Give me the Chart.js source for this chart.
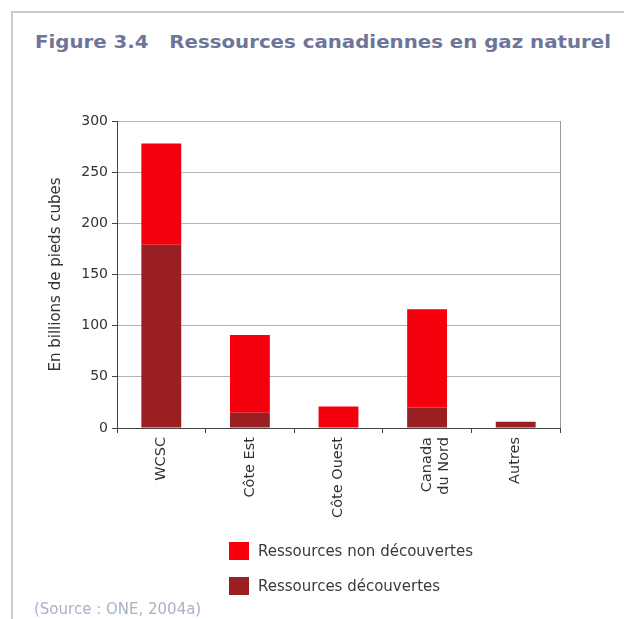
<!DOCTYPE html>
<html><head><meta charset="utf-8">
<script src="https://cdn.jsdelivr.net/npm/chart.js@4"></script>
<style>
html,body{margin:0;padding:0;background:#fff;}
#wrap{position:relative;width:624px;height:619px;overflow:hidden;font-family:"DejaVu Sans",sans-serif;background:#fff;}
#frame{position:absolute;left:11px;top:11px;width:640px;height:640px;border-left:2px solid #cbcbd3;border-top:2px solid #cbcbd3;}
#title{position:absolute;left:35px;top:34px;font-weight:bold;font-size:17px;line-height:17px;color:#6e7598;white-space:pre;transform-origin:0 0;}
#chartBox{position:absolute;left:0;top:0;width:624px;height:619px;}
#legend{position:absolute;left:229px;top:541px;}
.item{position:relative;height:35px;}
.sw{position:absolute;left:0;top:1px;width:20px;height:18px;}
.lt{position:absolute;left:29px;top:1px;font-size:15px;line-height:18px;color:#3a3a3a;white-space:nowrap;}
#source{position:absolute;left:34px;top:601px;font-size:15px;line-height:16px;color:#a9b1cb;white-space:nowrap;}
</style>
</head><body>
<div id="wrap">
  <div id="frame"></div>
  <div id="title">Figure 3.4   Ressources canadiennes en gaz naturel</div>
  <div id="chartBox"><canvas id="c" width="624" height="619"></canvas></div>
  <div id="legend"></div>
  <div id="source">(Source : ONE, 2004a)</div>
</div>
<script>
const categories = ['WCSC', 'Côte Est', 'Côte Ouest', ['Canada', 'du Nord'], 'Autres'];
const discovered = [179, 15, 0, 20, 6];
const undiscovered = [99, 76, 21, 96, 0];
const yTicksMin = 0, yTicksMax = 300, yTickStep = 50;
const seriesNames = ['Ressources découvertes', 'Ressources non découvertes'];
const seriesColors = ['#9a1f22', '#f4000c'];
const yTitle = 'En billions de pieds cubes';

const fam = '"DejaVu Sans", sans-serif';

const rightBorder = {
  id: 'rightBorder',
  afterDraw(chart) {
    const a = chart.chartArea, ctx = chart.ctx;
    ctx.save();
    ctx.strokeStyle = '#9a9a9a';
    ctx.lineWidth = 1;
    ctx.beginPath();
    ctx.moveTo(Math.round(a.right) + 0.5, a.top);
    ctx.lineTo(Math.round(a.right) + 0.5, a.bottom);
    ctx.stroke();
    ctx.restore();
  }
};

const chart = new Chart(document.getElementById('c'), {
  type: 'bar',
  data: {
    labels: categories,
    datasets: [
      {label: seriesNames[0], data: discovered, backgroundColor: seriesColors[0], borderWidth: 0},
      {label: seriesNames[1], data: undiscovered, backgroundColor: seriesColors[1], borderWidth: 0}
    ]
  },
  options: {
    responsive: false,
    animation: false,
    devicePixelRatio: 1,
    categoryPercentage: 1,
    barPercentage: 0.45,
    layout: {padding: {left: 42, top: 121, right: 64, bottom: 91}},
    plugins: {legend: {display: false}, title: {display: false}, tooltip: {enabled: false}},
    scales: {
      x: {
        stacked: true,
        grid: {display: true, drawOnChartArea: false, drawTicks: true, tickLength: 5, tickColor: '#444', offset: true},
        border: {display: true, color: '#444', width: 1},
        ticks: {font: {family: fam, size: 14.5}, color: '#333', minRotation: 90, maxRotation: 90, padding: 4, autoSkip: false},
        afterFit(scale) { scale.height = 100; }
      },
      y: {
        stacked: true,
        min: yTicksMin, max: yTicksMax,
        grid: {color: '#b3b3b3', tickColor: '#444', tickLength: 5, lineWidth: 1},
        border: {display: true, color: '#444', width: 1},
        ticks: {stepSize: yTickStep, font: {family: fam, size: 14}, color: '#333', padding: 4},
        title: {display: true, text: yTitle, font: {family: fam, size: 15}, color: '#333', padding: {top: 5, bottom: 0}},
        afterFit(scale) { scale.width = 75; }
      }
    }
  },
  plugins: [rightBorder]
});

// HTML legend built from the datasets (non découvertes on top)
const leg = document.getElementById('legend');
chart.data.datasets.slice().reverse().forEach(ds => {
  const it = document.createElement('div'); it.className = 'item';
  const sw = document.createElement('div'); sw.className = 'sw'; sw.style.background = ds.backgroundColor;
  const lt = document.createElement('div'); lt.className = 'lt'; lt.textContent = ds.label;
  it.appendChild(sw); it.appendChild(lt); leg.appendChild(it);
});

// fit title to its printed width
const t = document.getElementById('title');
const w = t.getBoundingClientRect().width;
t.style.transform = 'scaleX(' + (576 / w) + ')';
</script>
</body></html>
